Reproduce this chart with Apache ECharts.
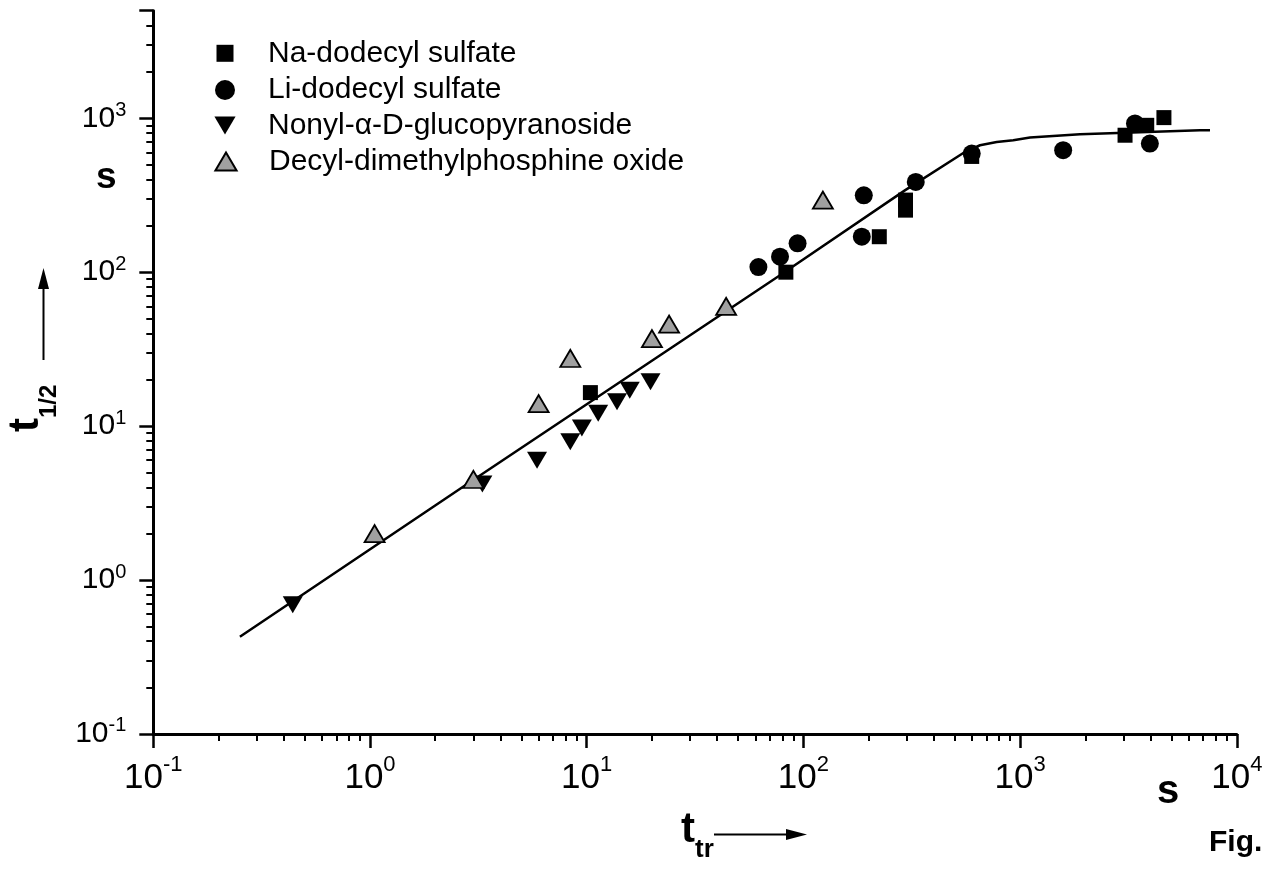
<!DOCTYPE html>
<html><head><meta charset="utf-8">
<script src="https://cdn.jsdelivr.net/npm/echarts@6/dist/echarts.min.js"></script>
<style>html,body{margin:0;padding:0;background:#fff}#c{width:1265px;height:869px}</style>
</head><body><div id="c"></div>
<script>
// ---- data ----
const naX = [10.4, 83, 224, 296, 296, 598, 3050, 3840, 4610];
const naY = [16.5, 100, 170, 294, 253, 565, 776, 900, 1010];

const liX = [62, 78, 94, 186, 190, 330, 598, 1580, 3390, 3970];
const liY = [108, 126, 154, 170, 316, 386, 590, 620, 925, 685];

const nonylX = [0.44, 3.3, 5.9, 8.4, 9.5, 11.3, 13.8, 15.8, 19.7];
const nonylY = [0.69, 4.2, 6.0, 7.9, 9.7, 12.1, 14.4, 17.1, 19.4];

const decylX = [1.05, 3.0, 6.0, 8.4, 20, 24, 44, 123];
const decylY = [2.0, 4.5, 14, 27.5, 37, 46, 60, 294];

const fitX = [0.251, 2.70, 78.0, 294, 547, 600, 653, 780, 930, 1111, 1890, 3575, 6760, 7520];
const fitY = [0.428, 4.05, 95.6, 340, 595, 632, 668, 702, 720, 749, 787, 811, 836, 836];

const xTickValues = [0.1, 1, 10, 100, 1000, 10000];
const yTickValues = [0.1, 1, 10, 100, 1000];

const seriesNames = ['Na-dodecyl sulfate', 'Li-dodecyl sulfate', 'Nonyl-\u03B1-D-glucopyranoside', 'Decyl-dimethylphosphine oxide'];

// ---- helpers ----
function zip(xs, ys) { return xs.map((x, i) => [x, ys[i]]); }
function supLabel(ticks) {
  return function (v) {
    for (const t of ticks) {
      if (Math.abs(Math.log10(v) - Math.log10(t)) < 1e-6) {
        return '{b|10}{s|' + Math.round(Math.log10(t)) + '}';
      }
    }
    return '';
  };
}
const FONT = "'Liberation Sans', Arial, Helvetica, sans-serif";
const UP_TRI = 'path://M10,0L20,17L0,17Z';
const DOWN_TRI = 'path://M0,0L20,0L10,17Z';
const SQUARE = 'path://M0,0H10V10H0Z';

// legend icon centred at x=225, text starting at x=268
function legendFor(name, icon, h, iconW, centerY) {
  return {
    data: [{ name: name, icon: icon }],
    left: 225 - iconW / 2, top: centerY - 15, padding: 0,
    itemWidth: 76, itemHeight: h, symbolKeepAspect: true,
    selectedMode: false,
    textStyle: { fontFamily: FONT, fontSize: 30, lineHeight: 30, color: '#000' }
  };
}

const chart = echarts.init(document.getElementById('c'), null, { renderer: 'canvas' });
const option = {
  animation: false,
  backgroundColor: '#fff',
  grid: { left: 153.3, right: 28.2, top: 10.7, bottom: 135.1, containLabel: false, outerBoundsMode: 'none' },
  legend: [
    legendFor(seriesNames[0], SQUARE, 17, 17, 53.3),
    legendFor(seriesNames[1], 'circle', 20, 20, 90),
    legendFor(seriesNames[2], DOWN_TRI, 18, 18 * 20 / 17, 125.5),
    legendFor(seriesNames[3], UP_TRI, 18, 18 * 20 / 17, 161.5)
  ],
  xAxis: {
    type: 'log', logBase: 10, min: 0.1, max: 10000,
    axisLine: { show: true, lineStyle: { color: '#000', width: 3 } },
    axisTick: { show: true, length: 14, lineStyle: { color: '#000', width: 2.5 } },
    minorTick: { show: true, splitNumber: 9, length: 7, lineStyle: { color: '#000', width: 2 } },
    splitLine: { show: false }, minorSplitLine: { show: false },
    axisLabel: {
      margin: 20, formatter: supLabel(xTickValues),
      rich: {
        b: { fontFamily: FONT, fontSize: 35, lineHeight: 49, color: '#000' },
        s: { fontFamily: FONT, fontSize: 22, lineHeight: 22, verticalAlign: 'top', color: '#000' }
      }
    }
  },
  yAxis: {
    type: 'log', logBase: 10, min: 0.1, max: 5000,
    axisLine: { show: true, lineStyle: { color: '#000', width: 3 } },
    axisTick: { show: true, length: 14, lineStyle: { color: '#000', width: 2.5 } },
    minorTick: { show: true, splitNumber: 9, length: 7, lineStyle: { color: '#000', width: 2 } },
    splitLine: { show: false }, minorSplitLine: { show: false },
    axisLabel: {
      margin: 27, formatter: supLabel(yTickValues), showMaxLabel: false,
      rich: {
        b: { fontFamily: FONT, fontSize: 30, lineHeight: 36, color: '#000' },
        s: { fontFamily: FONT, fontSize: 20, lineHeight: 20, verticalAlign: 'top', color: '#000' }
      }
    }
  },
  series: [
    {
      type: 'line', data: zip(fitX, fitY), symbol: 'none', smooth: false, z: 1,
      lineStyle: { color: '#000', width: 2.5, join: 'round' }, emphasis: { disabled: true }, silent: true
    },
    {
      name: seriesNames[0], type: 'scatter', data: zip(naX, naY), symbol: 'rect', symbolSize: 15, z: 3,
      itemStyle: { color: '#000', opacity: 1 }, emphasis: { disabled: true }
    },
    {
      name: seriesNames[1], type: 'scatter', data: zip(liX, liY), symbol: 'circle', symbolSize: 18, z: 3,
      itemStyle: { color: '#000', opacity: 1 }, emphasis: { disabled: true }
    },
    {
      name: seriesNames[2], type: 'scatter', data: zip(nonylX, nonylY), symbol: DOWN_TRI, symbolSize: [20, 17], z: 3,
      itemStyle: { color: '#000', opacity: 1 }, emphasis: { disabled: true }
    },
    {
      name: seriesNames[3], type: 'scatter', data: zip(decylX, decylY), symbol: UP_TRI, symbolSize: [20, 17], z: 3,
      itemStyle: { color: '#a0a0a0', borderColor: '#000', borderWidth: 1.8, opacity: 1 }, emphasis: { disabled: true }
    }
  ],
  graphic: [
    // y-axis unit
    { type: 'text', x: 96, y: 178, style: { text: 's', font: 'bold 37px ' + FONT, fill: '#000', align: 'left', verticalAlign: 'middle' } },
    // x-axis unit
    { type: 'text', x: 1157, y: 792, style: { text: 's', font: 'bold 40px ' + FONT, fill: '#000', align: 'left', verticalAlign: 'middle' } },
    // Fig.
    { type: 'text', x: 1209, y: 842.6, style: { text: 'Fig.', font: 'bold 30px ' + FONT, fill: '#000', align: 'left', verticalAlign: 'middle' } },
    // y-axis title t_1/2 (rotated)
    {
      type: 'text', x: 26, y: 432, rotation: Math.PI / 2,
      style: {
        text: '{t|t}{s|1/2}', align: 'left', verticalAlign: 'middle',
        rich: {
          t: { fontFamily: FONT, fontWeight: 'bold', fontSize: 42, lineHeight: 70, fill: '#000', color: '#000' },
          s: { fontFamily: FONT, fontWeight: 'bold', fontSize: 24, lineHeight: 24, verticalAlign: 'bottom', fill: '#000', color: '#000' }
        }
      }
    },
    // y arrow
    { type: 'line', shape: { x1: 43.5, y1: 360, x2: 43.5, y2: 284 }, style: { stroke: '#000', lineWidth: 2 } },
    { type: 'polygon', shape: { points: [[43.5, 268], [38, 289], [49, 289]] }, style: { fill: '#000' } },
    // x-axis title t_tr
    {
      type: 'text', x: 681, y: 830.4,
      style: {
        text: '{t|t}{s|tr}', align: 'left', verticalAlign: 'middle',
        rich: {
          t: { fontFamily: FONT, fontWeight: 'bold', fontSize: 42, lineHeight: 65, fill: '#000', color: '#000' },
          s: { fontFamily: FONT, fontWeight: 'bold', fontSize: 26, lineHeight: 26, verticalAlign: 'bottom', fill: '#000', color: '#000' }
        }
      }
    },
    // x arrow
    { type: 'line', shape: { x1: 714, y1: 834.5, x2: 790, y2: 834.5 }, style: { stroke: '#000', lineWidth: 2 } },
    { type: 'polygon', shape: { points: [[807, 834.5], [786, 829], [786, 840]] }, style: { fill: '#000' } }
  ]
};
chart.setOption(option);
</script>
</body></html>
